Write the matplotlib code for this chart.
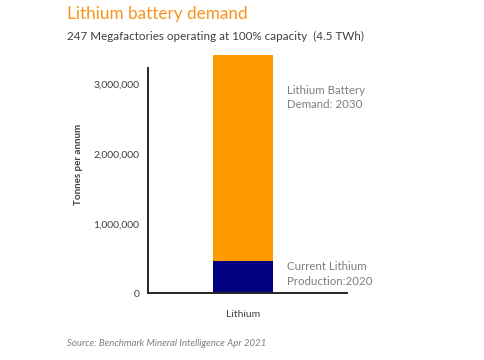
import matplotlib
matplotlib.use("Agg")
import matplotlib.pyplot as plt
from matplotlib.ticker import FuncFormatter

plt.rcParams['font.family'] = ['Lato', 'DejaVu Sans']

categories = ["Lithium"]
production_2020 = [466000]
demand_2030_extra = [2950000]
yticks = [0, 1000000, 2000000, 3000000]

fig = plt.figure(figsize=(4.85, 3.6), dpi=100)
ax = fig.add_axes([0.305, 0.185, 0.41, 0.626])

x = list(range(len(categories)))
ax.bar(x, production_2020, width=0.6, color="#000080", clip_on=False, zorder=2)
ax.bar(x, demand_2030_extra, bottom=production_2020, width=0.6, color="#FF9900",
       clip_on=False, zorder=2)

ax.set_xlim(-0.954, 1.046)
ax.set_ylim(0, 3235000)
ax.set_yticks(yticks)
ax.yaxis.set_major_formatter(FuncFormatter(lambda v, p: f"{int(v):,}"))
ax.set_xticks(x)
ax.set_xticklabels(categories)
ax.tick_params(axis='both', length=0, labelsize=7.5, colors="#404040")
ax.tick_params(axis='y', pad=6)
ax.tick_params(axis='x', pad=12)
for s in ["top", "right"]:
    ax.spines[s].set_visible(False)
for s in ["left", "bottom"]:
    ax.spines[s].set_color("#262626")
    ax.spines[s].set_linewidth(1.4)

fig.text(0.161, 0.542, "Tonnes per annum", fontsize=7, color="#404040", fontweight="bold",
         rotation=90, va="center", ha="center")

fig.text(0.138, 0.961, "Lithium battery demand", fontsize=12.3, color="#F7941D", va="center", ha="left")
fig.text(0.138, 0.9, "247 Megafactories operating at 100% capacity  (4.5 TWh)", fontsize=8.4,
         color="#404040", va="center", ha="left")
fig.text(0.138, 0.047, "Source: Benchmark Mineral Intelligence Apr 2021", fontsize=6.9,
         color="#7F7F7F", style="italic", va="center", ha="left")

fig.text(0.592, 0.729, "Lithium Battery\nDemand: 2030", fontsize=8.3, color="#7F7F7F",
         va="center", ha="left", linespacing=1.35)
fig.text(0.592, 0.239, "Current Lithium\nProduction:2020", fontsize=8.3, color="#7F7F7F",
         va="center", ha="left", linespacing=1.35)

fig.savefig("out.png", dpi=100)
